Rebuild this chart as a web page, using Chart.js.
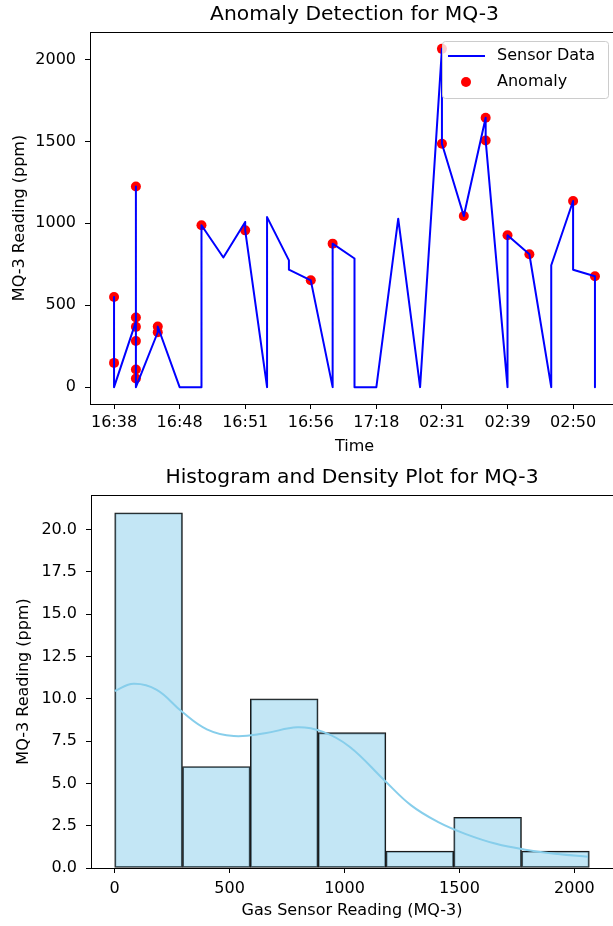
<!DOCTYPE html>
<html>
<head>
<meta charset="utf-8">
<script src="https://cdn.jsdelivr.net/npm/chart.js@4"></script>
<style>
  html, body { margin: 0; padding: 0; background: #fff; overflow: hidden; }
  .box { width: 613px; overflow: hidden; position: relative; }
  canvas { display: block; }
</style>
</head>
<body>
<div class="box" style="height:460px"><canvas id="anomalyChart" width="640" height="460"></canvas></div>
<div class="box" style="height:466px"><canvas id="histChart" width="640" height="466"></canvas></div>
<script>
// time slot index of every reading (ticks are every 3rd slot)
const sensorX = [0, 0, 0,
  1, 1, 1, 1, 1, 1, 1, 1,
  2, 2, 3, 3, 4, 4, 5, 6, 6, 7, 7, 7, 8, 8, 9, 10, 10, 11, 11,
  12, 12, 13, 14, 14, 15, 15, 16, 17, 17, 18, 18, 19, 20, 20, 21, 21, 22, 22, 22];
const sensorY = [148, 550, 0,
  400, 425, 368, 282, 108, 53, 1225, 0,
  335, 370, 0, 0, 0, 988, 791, 1008, 957, 0, 0, 1038, 774, 717, 652, 0, 876, 785, 0,
  0, 0, 1028, 0, 0, 2065, 1486, 1045, 1644, 1506, 0, 927, 811, 0, 744, 1136, 717, 677, 0, 0];

const anomalyX = [0, 0, 1, 1, 1, 1, 1, 1, 2, 2, 4, 6, 9, 10, 15, 15, 16, 17, 17, 18, 19, 21, 22];
const anomalyY = [550, 148, 1225, 425, 368, 282, 108, 53, 370, 335, 988, 957, 652, 876,
  2065, 1486, 1045, 1644, 1506, 927, 811, 1136, 677];

const timeTickPos = [0, 3, 6, 9, 12, 15, 18, 21];
const timeTickLabels = ['16:38', '16:48', '16:51', '16:56', '17:18', '02:31', '02:39', '02:50'];
const ppmTicks = [0, 500, 1000, 1500, 2000];

// histogram
const binEdges = [0, 295, 590, 885, 1180, 1475, 1770, 2065];
const binCounts = [21, 6, 10, 8, 1, 3, 1];
const kdeX = [0, 82, 183, 292, 401, 518, 653, 795, 904, 1022, 1173, 1290, 1408, 1525, 1659, 1794, 1928, 2059];
const kdeY = [10.46, 10.89, 10.53, 9.25, 8.2, 7.8, 7.96, 8.32, 8.06, 7.17, 5.19, 3.7, 2.71, 2.02, 1.43, 1.07, 0.83, 0.67];
const countTicks = [0, 2.5, 5, 7.5, 10, 12.5, 15, 17.5, 20];
const readingTicks = [0, 500, 1000, 1500, 2000];

const FONT = 'DejaVu Sans';
const tickFont = { family: FONT, size: 16 };

// box round the axes + title centred over the axes, like matplotlib
const mplFrame = {
  id: 'mplFrame',
  afterDraw(chart, args, opts) {
    const { ctx, chartArea: a } = chart;
    ctx.save();
    ctx.strokeStyle = '#000';
    ctx.lineWidth = 1;
    ctx.strokeRect(Math.round(a.left) + 0.5, Math.round(a.top) + 0.5,
      Math.round(a.right - a.left), Math.round(a.bottom - a.top));
    ctx.fillStyle = '#000';
    ctx.font = '20.3px "' + FONT + '"';
    ctx.textAlign = 'center';
    ctx.textBaseline = 'middle';
    ctx.fillText(opts.text, (a.left + a.right) / 2, opts.y);
    ctx.restore();
  }
};

// legend box inside the axes (upper right)
const innerLegend = {
  id: 'innerLegend',
  afterDraw(chart) {
    const { ctx, chartArea: a } = chart;
    const ds = chart.data.datasets;
    const x0 = a.right - 177, y0 = 41, w = 166, h = 57;
    ctx.save();
    ctx.fillStyle = 'rgba(255,255,255,0.8)';
    ctx.strokeStyle = '#cccccc';
    ctx.lineWidth = 1;
    ctx.beginPath();
    ctx.roundRect(x0 + 0.5, y0 + 0.5, w, h, 3);
    ctx.fill();
    ctx.stroke();

    ctx.strokeStyle = ds[0].borderColor;
    ctx.lineWidth = 2;
    ctx.beginPath();
    ctx.moveTo(x0 + 6, y0 + 15);
    ctx.lineTo(x0 + 43, y0 + 15);
    ctx.stroke();

    ctx.fillStyle = ds[1].backgroundColor;
    ctx.beginPath();
    ctx.arc(x0 + 24, y0 + 41, 5, 0, Math.PI * 2);
    ctx.fill();

    ctx.fillStyle = '#000';
    ctx.font = '16px "' + FONT + '"';
    ctx.textAlign = 'left';
    ctx.textBaseline = 'middle';
    ctx.fillText(ds[0].label, x0 + 55, y0 + 15);
    ctx.fillText(ds[1].label, x0 + 55, y0 + 41);
    ctx.restore();
  }
};

function axisStyle(extra) {
  return Object.assign({
    grid: { display: true, drawOnChartArea: false, drawTicks: true, tickLength: 5, color: '#000', lineWidth: 1, offset: false },
    border: { display: true, color: '#000', width: 1 },
  }, extra);
}

new Chart(document.getElementById('anomalyChart'), {
  type: 'scatter',
  data: {
    datasets: [
      {
        label: 'Sensor Data',
        data: sensorX.map((x, i) => ({ x, y: sensorY[i] })),
        showLine: true,
        borderColor: '#0000ff',
        backgroundColor: '#0000ff',
        borderWidth: 2,
        borderJoinStyle: 'round',
        pointRadius: 0,
        tension: 0,
        order: 0
      },
      {
        label: 'Anomaly',
        data: anomalyX.map((x, i) => ({ x, y: anomalyY[i] })),
        backgroundColor: '#ff0000',
        borderWidth: 0,
        pointRadius: 5,
        order: 1
      }
    ]
  },
  options: {
    responsive: false,
    animation: false,
    layout: { padding: { top: 32, right: 21, left: 0, bottom: 0 } },
    plugins: {
      legend: { display: false },
      tooltip: { enabled: false },
      mplFrame: { text: 'Anomaly Detection for MQ-3', y: 15 }
    },
    scales: {
      x: axisStyle({
        type: 'linear',
        min: -1.1,
        max: 23.1,
        afterBuildTicks: s => { s.ticks = timeTickPos.map(v => ({ value: v })); },
        afterFit: s => { s.height = 56; },
        ticks: {
          font: tickFont, color: '#000', padding: 4, maxRotation: 0, autoSkip: false,
          callback: (v, i) => timeTickLabels[i]
        },
        title: { display: true, text: 'Time', font: tickFont, color: '#000', padding: { top: 0, bottom: 3.5 } }
      }),
      y: axisStyle({
        min: -103,
        max: 2168,
        afterBuildTicks: s => { s.ticks = ppmTicks.map(v => ({ value: v })); },
        afterFit: s => { s.width = 90; },
        ticks: { font: tickFont, color: '#000', padding: 9, callback: v => String(v) },
        title: { display: true, text: 'MQ-3 Reading (ppm)', font: tickFont, color: '#000', padding: { top: 10, bottom: 0 } }
      })
    }
  },
  plugins: [mplFrame, innerLegend]
});

const binCenters = binCounts.map((c, i) => (binEdges[i] + binEdges[i + 1]) / 2);

new Chart(document.getElementById('histChart'), {
  type: 'bar',
  data: {
    datasets: [
      {
        type: 'line',
        label: 'density',
        data: kdeX.map((x, i) => ({ x, y: kdeY[i] })),
        borderColor: '#87ceeb',
        borderWidth: 2,
        pointRadius: 0,
        tension: 0.4,
        fill: false,
        order: 0
      },
      {
        type: 'bar',
        label: 'count',
        data: binCenters.map((x, i) => ({ x, y: binCounts[i] })),
        backgroundColor: 'rgba(135,206,235,0.5)',
        borderColor: '#1a1a1a',
        borderWidth: 1.2,
        borderSkipped: false,
        barPercentage: 1,
        categoryPercentage: 1,
        order: 1
      }
    ]
  },
  options: {
    responsive: false,
    animation: false,
    layout: { padding: { top: 35, right: 27, left: 0, bottom: 0 } },
    plugins: {
      legend: { display: false },
      tooltip: { enabled: false },
      mplFrame: { text: 'Histogram and Density Plot for MQ-3', y: 18 }
    },
    scales: {
      x: axisStyle({
        type: 'linear',
        offset: false,
        min: -103,
        max: 2168,
        afterBuildTicks: s => { s.ticks = readingTicks.map(v => ({ value: v })); },
        afterFit: s => { s.height = 58; },
        ticks: { font: tickFont, color: '#000', padding: 6, maxRotation: 0, callback: v => String(v) },
        title: { display: true, text: 'Gas Sensor Reading (MQ-3)', font: tickFont, color: '#000', padding: { top: 0, bottom: 5.5 } }
      }),
      y: axisStyle({
        min: 0,
        max: 22.05,
        afterBuildTicks: s => { s.ticks = countTicks.map(v => ({ value: v })); },
        afterFit: s => { s.width = 91; },
        ticks: { font: tickFont, color: '#000', padding: 9, callback: v => v.toFixed(1) },
        title: { display: true, text: 'MQ-3 Reading (ppm)', font: tickFont, color: '#000', padding: { top: 14, bottom: 0 } }
      })
    }
  },
  plugins: [mplFrame]
});
</script>
</body>
</html>
